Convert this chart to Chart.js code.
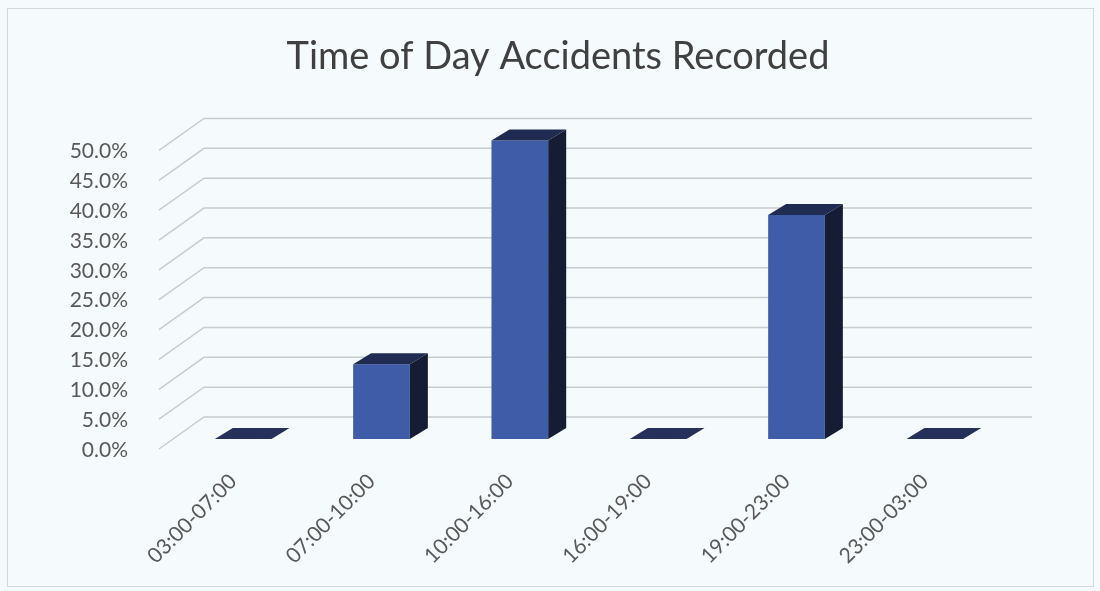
<!DOCTYPE html>
<html>
<head>
<meta charset="utf-8">
<title>Time of Day Accidents Recorded</title>
<script src="https://cdn.jsdelivr.net/npm/chart.js@4"></script>
<style>
  html, body { margin: 0; padding: 0; background: #f5fafc; }
  #frame { position: absolute; left: 7px; top: 8px; width: 1085px; height: 577px; border: 1px solid #d3d8db; }
  #chart { position: absolute; left: 0; top: 0; }
</style>
</head>
<body>
<div id="frame"></div>
<canvas id="chart" width="1100" height="591"></canvas>
<script>
// data
const categories = ['03:00-07:00', '07:00-10:00', '10:00-16:00', '16:00-19:00', '19:00-23:00', '23:00-03:00'];
const accidentShare = [0, 0.125, 0.5, 0, 0.375, 0];
const yTickValues = [0, 0.05, 0.10, 0.15, 0.20, 0.25, 0.30, 0.35, 0.40, 0.45, 0.50];
const yMax = 0.55;

// fake 3D look: back wall lines, slanted floor lines, bar sides and tops
const pseudo3d = {
    id: 'pseudo3d',
    beforeDatasetsDraw(chart) {
        const { ctx, chartArea } = chart;
        const y = chart.scales.y;
        const backLeft = chartArea.left + 30;
        const backRight = chartArea.right + 28;
        const frontLeft = chartArea.left - 15;
        ctx.save();
        ctx.strokeStyle = '#c9cccd';
        ctx.lineWidth = 1.5;
        yTickValues.forEach(v => {
            const py = y.getPixelForValue(v);
            ctx.beginPath();
            ctx.moveTo(frontLeft, py + 10);
            ctx.lineTo(backLeft, py - 22);
            ctx.lineTo(backRight, py - 22);
            ctx.stroke();
        });
        ctx.restore();
    },
    afterDatasetsDraw(chart) {
        const { ctx } = chart;
        const meta = chart.getDatasetMeta(0);
        const dx = 18, dy = -11;
        ctx.save();
        meta.data.forEach(bar => {
            const { x, y, base, width } = bar.getProps(['x', 'y', 'base', 'width'], true);
            const l = x - width / 2, r = x + width / 2;
            // side
            if (base - y > 0.5) {
                ctx.fillStyle = '#151d35';
                ctx.beginPath();
                ctx.moveTo(r, y);
                ctx.lineTo(r + dx, y + dy);
                ctx.lineTo(r + dx, base + dy);
                ctx.lineTo(r, base);
                ctx.closePath();
                ctx.fill();
            }
            // top
            ctx.fillStyle = base - y > 0.5 ? '#1f2b50' : '#25315a';
            ctx.beginPath();
            ctx.moveTo(l, y);
            ctx.lineTo(r, y);
            ctx.lineTo(r + dx, y + dy);
            ctx.lineTo(l + dx, y + dy);
            ctx.closePath();
            ctx.fill();
        });
        ctx.restore();
    }
};

new Chart(document.getElementById('chart'), {
    type: 'bar',
    data: {
        labels: categories,
        datasets: [{
            data: accidentShare,
            backgroundColor: '#3e5ca8',
            borderWidth: 0,
            barPercentage: 0.41,
            categoryPercentage: 1,
            yAxisID: 'y'
        }]
    },
    options: {
        responsive: false,
        animation: false,
        devicePixelRatio: 1,
        layout: { padding: { top: 0, left: 16, right: 0, bottom: 0 } },
        scales: {
            x: {
                grid: { display: false, drawTicks: false },
                border: { display: false },
                ticks: {
                    maxRotation: 45,
                    minRotation: 45,
                    padding: 30,
                    labelOffset: -10,
                    color: '#595959',
                    font: { family: 'Lato', size: 21 }
                },
                afterFit(scale) { scale.height = 152; }
            },
            y: {
                min: 0,
                max: yMax,
                grid: { display: false, drawTicks: false },
                border: { display: false },
                afterBuildTicks(scale) {
                    scale.ticks = yTickValues.map(v => ({ value: v }));
                },
                ticks: {
                    padding: 46,
                    labelOffset: 11,
                    color: '#595959',
                    font: { family: 'Lato', size: 21 },
                    callback: v => (v * 100).toFixed(1) + '%'
                },
                afterFit(scale) { scale.width = 158; }
            },
            // empty right-hand strip, keeps the plot clear of the right edge
            yRight: {
                position: 'right',
                min: 0,
                max: yMax,
                grid: { display: false, drawTicks: false },
                border: { display: false },
                ticks: { display: false },
                afterFit(scale) { scale.width = 96; }
            }
        },
        plugins: {
            legend: { display: false },
            tooltip: { enabled: false },
            title: {
                display: true,
                text: 'Time of Day Accidents Recorded',
                color: '#404040',
                font: { family: 'Lato', size: 38, weight: 'normal', lineHeight: 1.2 },
                padding: { top: 34, bottom: 31 }
            }
        }
    },
    plugins: [pseudo3d]
});
</script>
</body>
</html>
